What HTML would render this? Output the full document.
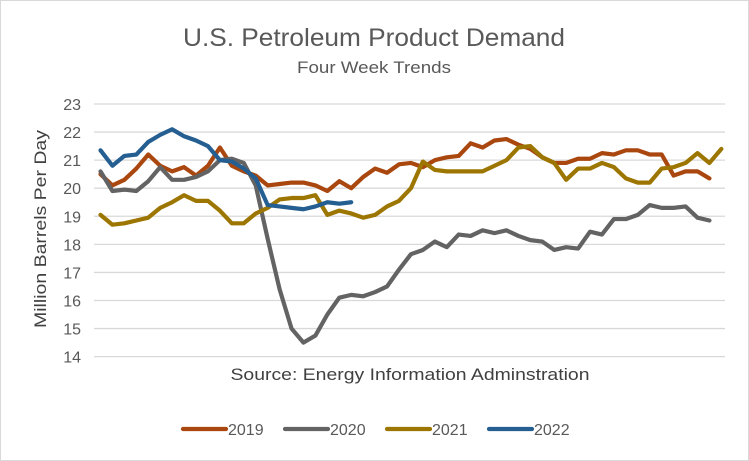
<!DOCTYPE html>
<html><head><meta charset="utf-8"><style>
html,body{margin:0;padding:0;background:#fff;}
svg{display:block;font-family:"Liberation Sans",Calibri,sans-serif;}
</style></head><body>
<svg width="749" height="461" viewBox="0 0 749 461">
<rect x="0.5" y="0.5" width="748" height="460" fill="#fff" stroke="#d9d9d9"/>
<text x="374" y="46" text-anchor="middle" font-size="25" fill="#595959" textLength="382" lengthAdjust="spacingAndGlyphs">U.S. Petroleum Product Demand</text>
<text x="374" y="73" text-anchor="middle" font-size="17" fill="#595959" textLength="154" lengthAdjust="spacingAndGlyphs">Four Week Trends</text>
<text transform="translate(46,229) rotate(-90)" text-anchor="middle" font-size="17" fill="#404040" textLength="198" lengthAdjust="spacingAndGlyphs">Million Barrels Per Day</text>
<g id="grid"></g><g id="yt"></g><g id="series"></g>
<text x="410" y="380" text-anchor="middle" font-size="17" fill="#404040" textLength="359" lengthAdjust="spacingAndGlyphs">Source: Energy Information Adminstration</text>
<g id="legend"></g>
</svg>
<script>
const years=["2019","2020","2021","2022"];
const colors=["#a9470f","#636363","#9c7600","#255e91"];
const s2019=[20.5,20.1,20.3,20.7,21.2,20.8,20.6,20.75,20.45,20.8,21.45,20.8,20.6,20.45,20.1,20.15,20.2,20.2,20.1,19.9,20.25,20.0,20.4,20.7,20.55,20.85,20.9,20.75,21.0,21.1,21.15,21.6,21.45,21.7,21.75,21.55,21.4,21.1,20.9,20.9,21.05,21.05,21.25,21.2,21.35,21.35,21.2,21.2,20.45,20.6,20.6,20.35];
const s2020=[20.6,19.9,19.95,19.9,20.25,20.75,20.3,20.3,20.4,20.6,21.0,21.05,20.9,20.1,18.2,16.4,15.0,14.5,14.75,15.5,16.1,16.2,16.15,16.3,16.5,17.1,17.65,17.8,18.1,17.9,18.35,18.3,18.5,18.4,18.5,18.3,18.15,18.1,17.8,17.9,17.85,18.45,18.35,18.9,18.9,19.05,19.4,19.3,19.3,19.35,18.95,18.85];
const s2021=[19.05,18.7,18.75,18.85,18.95,19.3,19.5,19.75,19.55,19.55,19.2,18.75,18.75,19.1,19.3,19.6,19.65,19.65,19.75,19.05,19.2,19.1,18.95,19.05,19.35,19.55,20.0,20.95,20.65,20.6,20.6,20.6,20.6,20.8,21.0,21.45,21.5,21.1,20.9,20.3,20.7,20.7,20.9,20.75,20.35,20.2,20.2,20.7,20.75,20.9,21.25,20.9,21.4];
const s2022=[21.35,20.8,21.15,21.2,21.65,21.9,22.1,21.85,21.7,21.5,21.0,20.95,20.7,20.35,19.4,19.35,19.3,19.25,19.35,19.5,19.45,19.5];
const yTicks=[14,15,16,17,18,19,20,21,22,23];
const NS="http://www.w3.org/2000/svg";
const y=v=>104+(23-v)*28.07;
const x=i=>100.5+i*11.94;
function mk(t,a,p){const e=document.createElementNS(NS,t);for(const k in a)e.setAttribute(k,a[k]);p.appendChild(e);return e;}
const grid=document.getElementById('grid'),yt=document.getElementById('yt');
yTicks.forEach(v=>{
 const l=mk('line',{x1:94,x2:725,y1:y(v),y2:y(v),stroke:'#d9d9d9','stroke-width':1.3},grid);
 
 
 const t=mk('text',{x:81,y:y(v)+6,'text-anchor':'end','font-size':16,fill:'#595959'},yt);
 t.textContent=v;
 
 
});
const data=[s2019,s2020,s2021,s2022];
const sg=document.getElementById('series');
data.forEach((s,k)=>{
 const p=mk('polyline',{points:s.map((v,i)=>x(i)+','+y(v)).join(' '),fill:'none',stroke:colors[k],'stroke-width':4.2,'stroke-linejoin':'round','stroke-linecap':'round'},sg);
 
 
});
const lg=document.getElementById('legend');
const lx=[183,285,387,489];
years.forEach((yr,k)=>{
 const g=mk('g',{},lg);
 
 
 mk('line',{x1:lx[k],x2:lx[k]+43,y1:429,y2:429,stroke:colors[k],'stroke-width':4.2,'stroke-linecap':'round'},g);
 const t=mk('text',{x:lx[k]+45,y:435,'font-size':16,fill:'#595959'},g);
 t.textContent=yr;
});
</script>
</body></html>
